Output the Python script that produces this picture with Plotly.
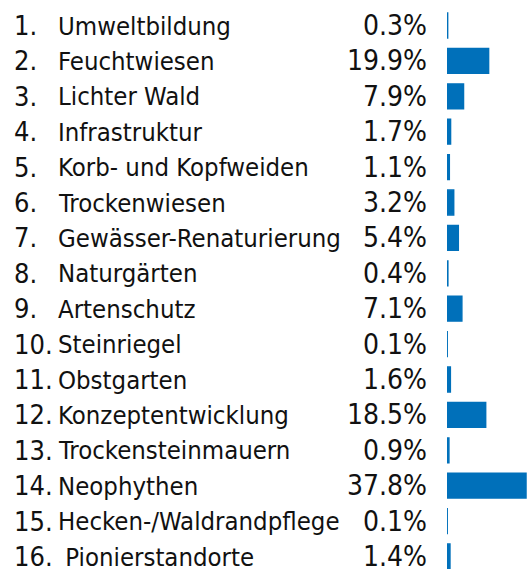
import plotly.graph_objects as go

numbers = ["1.", "2.", "3.", "4.", "5.", "6.", "7.", "8.", "9.", "10.", "11.", "12.", "13.", "14.", "15.", "16."]
names = ["Umweltbildung", "Feuchtwiesen", "Lichter Wald", "Infrastruktur", "Korb- und Kopfweiden",
         "Trockenwiesen", "Gewässer-Renaturierung", "Naturgärten", "Artenschutz", "Steinriegel",
         "Obstgarten", "Konzeptentwicklung", "Trockensteinmauern", "Neophythen",
         "Hecken-/Waldrandpflege", "\u00a0Pionierstandorte"]
values = [0.3, 19.9, 7.9, 1.7, 1.1, 3.2, 5.4, 0.4, 7.1, 0.1, 1.6, 18.5, 0.9, 37.8, 0.1, 1.4]

W, H = 528, 569
NAME_FONT = dict(family="DejaVu Sans Condensed", size=25.5, color="#111111")
NUM_FONT = dict(family="DejaVu Sans Condensed", size=27, color="#111111")
PCT_FONT = dict(family="DejaVu Sans Condensed", size=28, color="#111111")
BLUE = "#0070BA"

rows = list(range(len(values)))
pitch = 35.4
y0 = 25.5
y_top = -y0 / pitch
y_bot = (H - y0) / pitch

fig = go.Figure()
fig.add_trace(go.Bar(
    x=values, y=rows, orientation="h",
    marker=dict(color=BLUE, line=dict(color=BLUE, width=1.5)),
    width=0.7, hoverinfo="skip",
))

ann = []
for i, (n, nm, v) in enumerate(zip(numbers, names, values)):
    ann.append(dict(x=12 / W, y=i, xref="paper", yref="y", text=n, showarrow=False,
                    xanchor="left", yanchor="middle", font=NUM_FONT))
    ann.append(dict(x=56 / W, y=i, xref="paper", yref="y", text=nm, showarrow=False,
                    xanchor="left", yanchor="middle", font=NAME_FONT))
    ann.append(dict(x=429 / W, y=i, xref="paper", yref="y", text=f"{v:.1f}%", showarrow=False,
                    xanchor="right", yanchor="middle", font=PCT_FONT))

fig.update_layout(
    width=W, height=H,
    margin=dict(l=0, r=0, t=0, b=0),
    paper_bgcolor="white", plot_bgcolor="white",
    showlegend=False,
    xaxis=dict(domain=[447 / W, 1], range=[0, 37.8 * 81 / 79], visible=False, fixedrange=True),
    yaxis=dict(range=[y_bot, y_top], visible=False, fixedrange=True),
    annotations=ann,
)
fig.write_html("out.html", config={"displayModeBar": False},
               post_script="document.body.style.margin='0';")
